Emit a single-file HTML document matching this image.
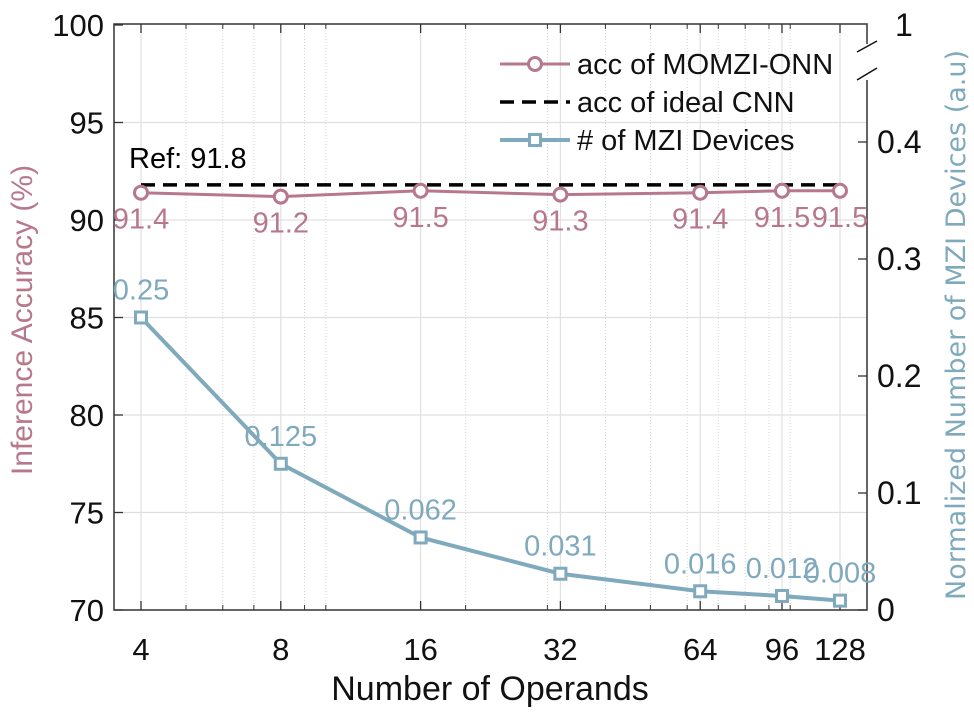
<!DOCTYPE html>
<html><head><meta charset="utf-8"><style>
html,body{margin:0;padding:0;background:#fff;}
svg text{font-family:"Liberation Sans",sans-serif;}
</style></head><body>
<svg id="chart" width="974" height="715" xmlns="http://www.w3.org/2000/svg"></svg>
<script>
const categories=[4,8,16,32,64,96,128];
const accValues=[91.4,91.2,91.5,91.3,91.4,91.5,91.5];
const mziValues=[0.25,0.125,0.062,0.031,0.016,0.012,0.008];
const mziLabels=["0.25","0.125","0.062","0.031","0.016","0.012","0.008"];
const refValue=91.8;
const leftTicks=[70,75,80,85,90,95,100];
const rightTicks=[0,0.1,0.2,0.3,0.4];
const minorX=[5,6,7,9,10,20,30,40,50,60,70,80,90,100];

const NS="http://www.w3.org/2000/svg";
const svg=document.getElementById('chart');
const L=114,R=867,T=24,B=610;
const PINK="#b8788c",BLUE="#7fa9bc";
function xS(v){return 141+139.8*Math.log2(v/4);}
function yL(v){return B-(v-70)*19.5;}
function yR(v){return B-v*1170;}
function el(tag,attrs,parent){const e=document.createElementNS(NS,tag);for(const k in attrs)e.setAttribute(k,attrs[k]);(parent||svg).appendChild(e);return e;}
function txt(s,attrs){const e=el('text',attrs);e.textContent=s;return e;}

minorX.forEach(v=>{const x=xS(v);
 const g=el('line',{x1:x,x2:x,y1:T,y2:B,stroke:'#d4d4d4','stroke-width':1,'stroke-dasharray':'1,2'});
 
 el('line',{x1:x,x2:x,y1:B,y2:B-5,stroke:'#333'});el('line',{x1:x,x2:x,y1:T,y2:T+5,stroke:'#333'});
});
categories.forEach(v=>{const x=xS(v);
 const g=el('line',{x1:x,x2:x,y1:T,y2:B,stroke:'#e0e0e0','stroke-width':1.2});
 
 el('line',{x1:x,x2:x,y1:B,y2:B-9,stroke:'#333','stroke-width':1.3});el('line',{x1:x,x2:x,y1:T,y2:T+9,stroke:'#333','stroke-width':1.3});
 const t=txt(String(v),{x:x,y:B+50,'font-size':31,'text-anchor':'middle',fill:'#111'});
 
});
leftTicks.forEach(v=>{const y=yL(v);
 if(v>70&&v<100){const g=el('line',{x1:L,x2:R,y1:y,y2:y,stroke:'#e0e0e0','stroke-width':1.2});}
 el('line',{x1:L,x2:L+9,y1:y,y2:y,stroke:'#333','stroke-width':1.3});
 const t=txt(String(v),{x:L-10,y:y+11,'font-size':31,'text-anchor':'end',fill:'#111'});
 
});
rightTicks.forEach(v=>{const y=yR(v);
 el('line',{x1:R,x2:R-9,y1:y,y2:y,stroke:'#333','stroke-width':1.3});
 const t=txt(String(v),{x:R+10,y:y+11,'font-size':32,fill:'#111'});
 
});
const ax=el('path',{d:`M${R},44 L${R},${T} L${L},${T} L${L},${B} L${R},${B} L${R},80`,fill:'none',stroke:'#333','stroke-width':1.5});

el('line',{x1:R-10,x2:R+10,y1:52,y2:41,stroke:'#111','stroke-width':1.5});
el('line',{x1:R-10,x2:R+10,y1:80,y2:68,stroke:'#111','stroke-width':1.5});
const one=txt('1',{x:R+28,y:36,'font-size':32,fill:'#111'});

const ry=yL(refValue);
const ref=el('line',{x1:xS(categories[0]),x2:xS(categories[categories.length-1]),y1:ry,y2:ry,stroke:'#000','stroke-width':3.5,'stroke-dasharray':'14,8'});

const rt=txt('Ref: '+refValue,{x:129,y:ry-17,'font-size':29,fill:'#000'});

const ap=el('polyline',{points:categories.map((c,i)=>xS(c)+','+yL(accValues[i])).join(' '),fill:'none',stroke:PINK,'stroke-width':3});

categories.forEach((c,i)=>{
 const m=el('circle',{cx:xS(c),cy:yL(accValues[i]),r:6.5,fill:'#fff',stroke:PINK,'stroke-width':3});
 
 const t=txt(String(accValues[i]),{x:xS(c),y:yL(accValues[i])+36,'font-size':29,'text-anchor':'middle',fill:PINK});
 
});
const mp=el('polyline',{points:categories.map((c,i)=>xS(c)+','+yR(mziValues[i])).join(' '),fill:'none',stroke:BLUE,'stroke-width':4});

categories.forEach((c,i)=>{
 const m=el('rect',{x:xS(c)-5.5,y:yR(mziValues[i])-5.5,width:11,height:11,fill:'#fff',stroke:BLUE,'stroke-width':3});
 
 const t=txt(mziLabels[i],{x:xS(c),y:yR(mziValues[i])-18,'font-size':29,'text-anchor':'middle',fill:BLUE});
 
});

const lg=el('g',{});
el('line',{x1:500,x2:570,y1:64,y2:64,stroke:PINK,'stroke-width':3},lg);
el('circle',{cx:535,cy:64,r:6.5,fill:'#fff',stroke:PINK,'stroke-width':3},lg);
const l1=txt('acc of MOMZI-ONN',{x:577,y:74,'font-size':29,fill:'#111'});lg.appendChild(l1);
el('line',{x1:500,x2:570,y1:102,y2:102,stroke:'#000','stroke-width':3.5,'stroke-dasharray':'14,8'},lg);
const l2=txt('acc of ideal CNN',{x:577,y:112,'font-size':29,fill:'#111'});lg.appendChild(l2);
el('line',{x1:500,x2:570,y1:140,y2:140,stroke:BLUE,'stroke-width':4},lg);
el('rect',{x:529.5,y:134.5,width:11,height:11,fill:'#fff',stroke:BLUE,'stroke-width':3},lg);
const l3=txt('# of MZI Devices',{x:577,y:150,'font-size':29,fill:'#111'});lg.appendChild(l3);

const xt=txt('Number of Operands',{x:490,y:700,'font-size':34,'text-anchor':'middle',fill:'#111'});
const yt=txt('Inference Accuracy (%)',{x:0,y:0,'font-size':30,'text-anchor':'middle',fill:PINK,transform:'translate(32,320) rotate(-90)'});
const y2=txt('Normalized Number of MZI Devices (a.u)',{x:0,y:0,'text-anchor':'middle',fill:BLUE,transform:'translate(965,325) rotate(-90)',style:'font-family:"DejaVu Sans",sans-serif;font-size:27px'});
</script>
</body></html>
